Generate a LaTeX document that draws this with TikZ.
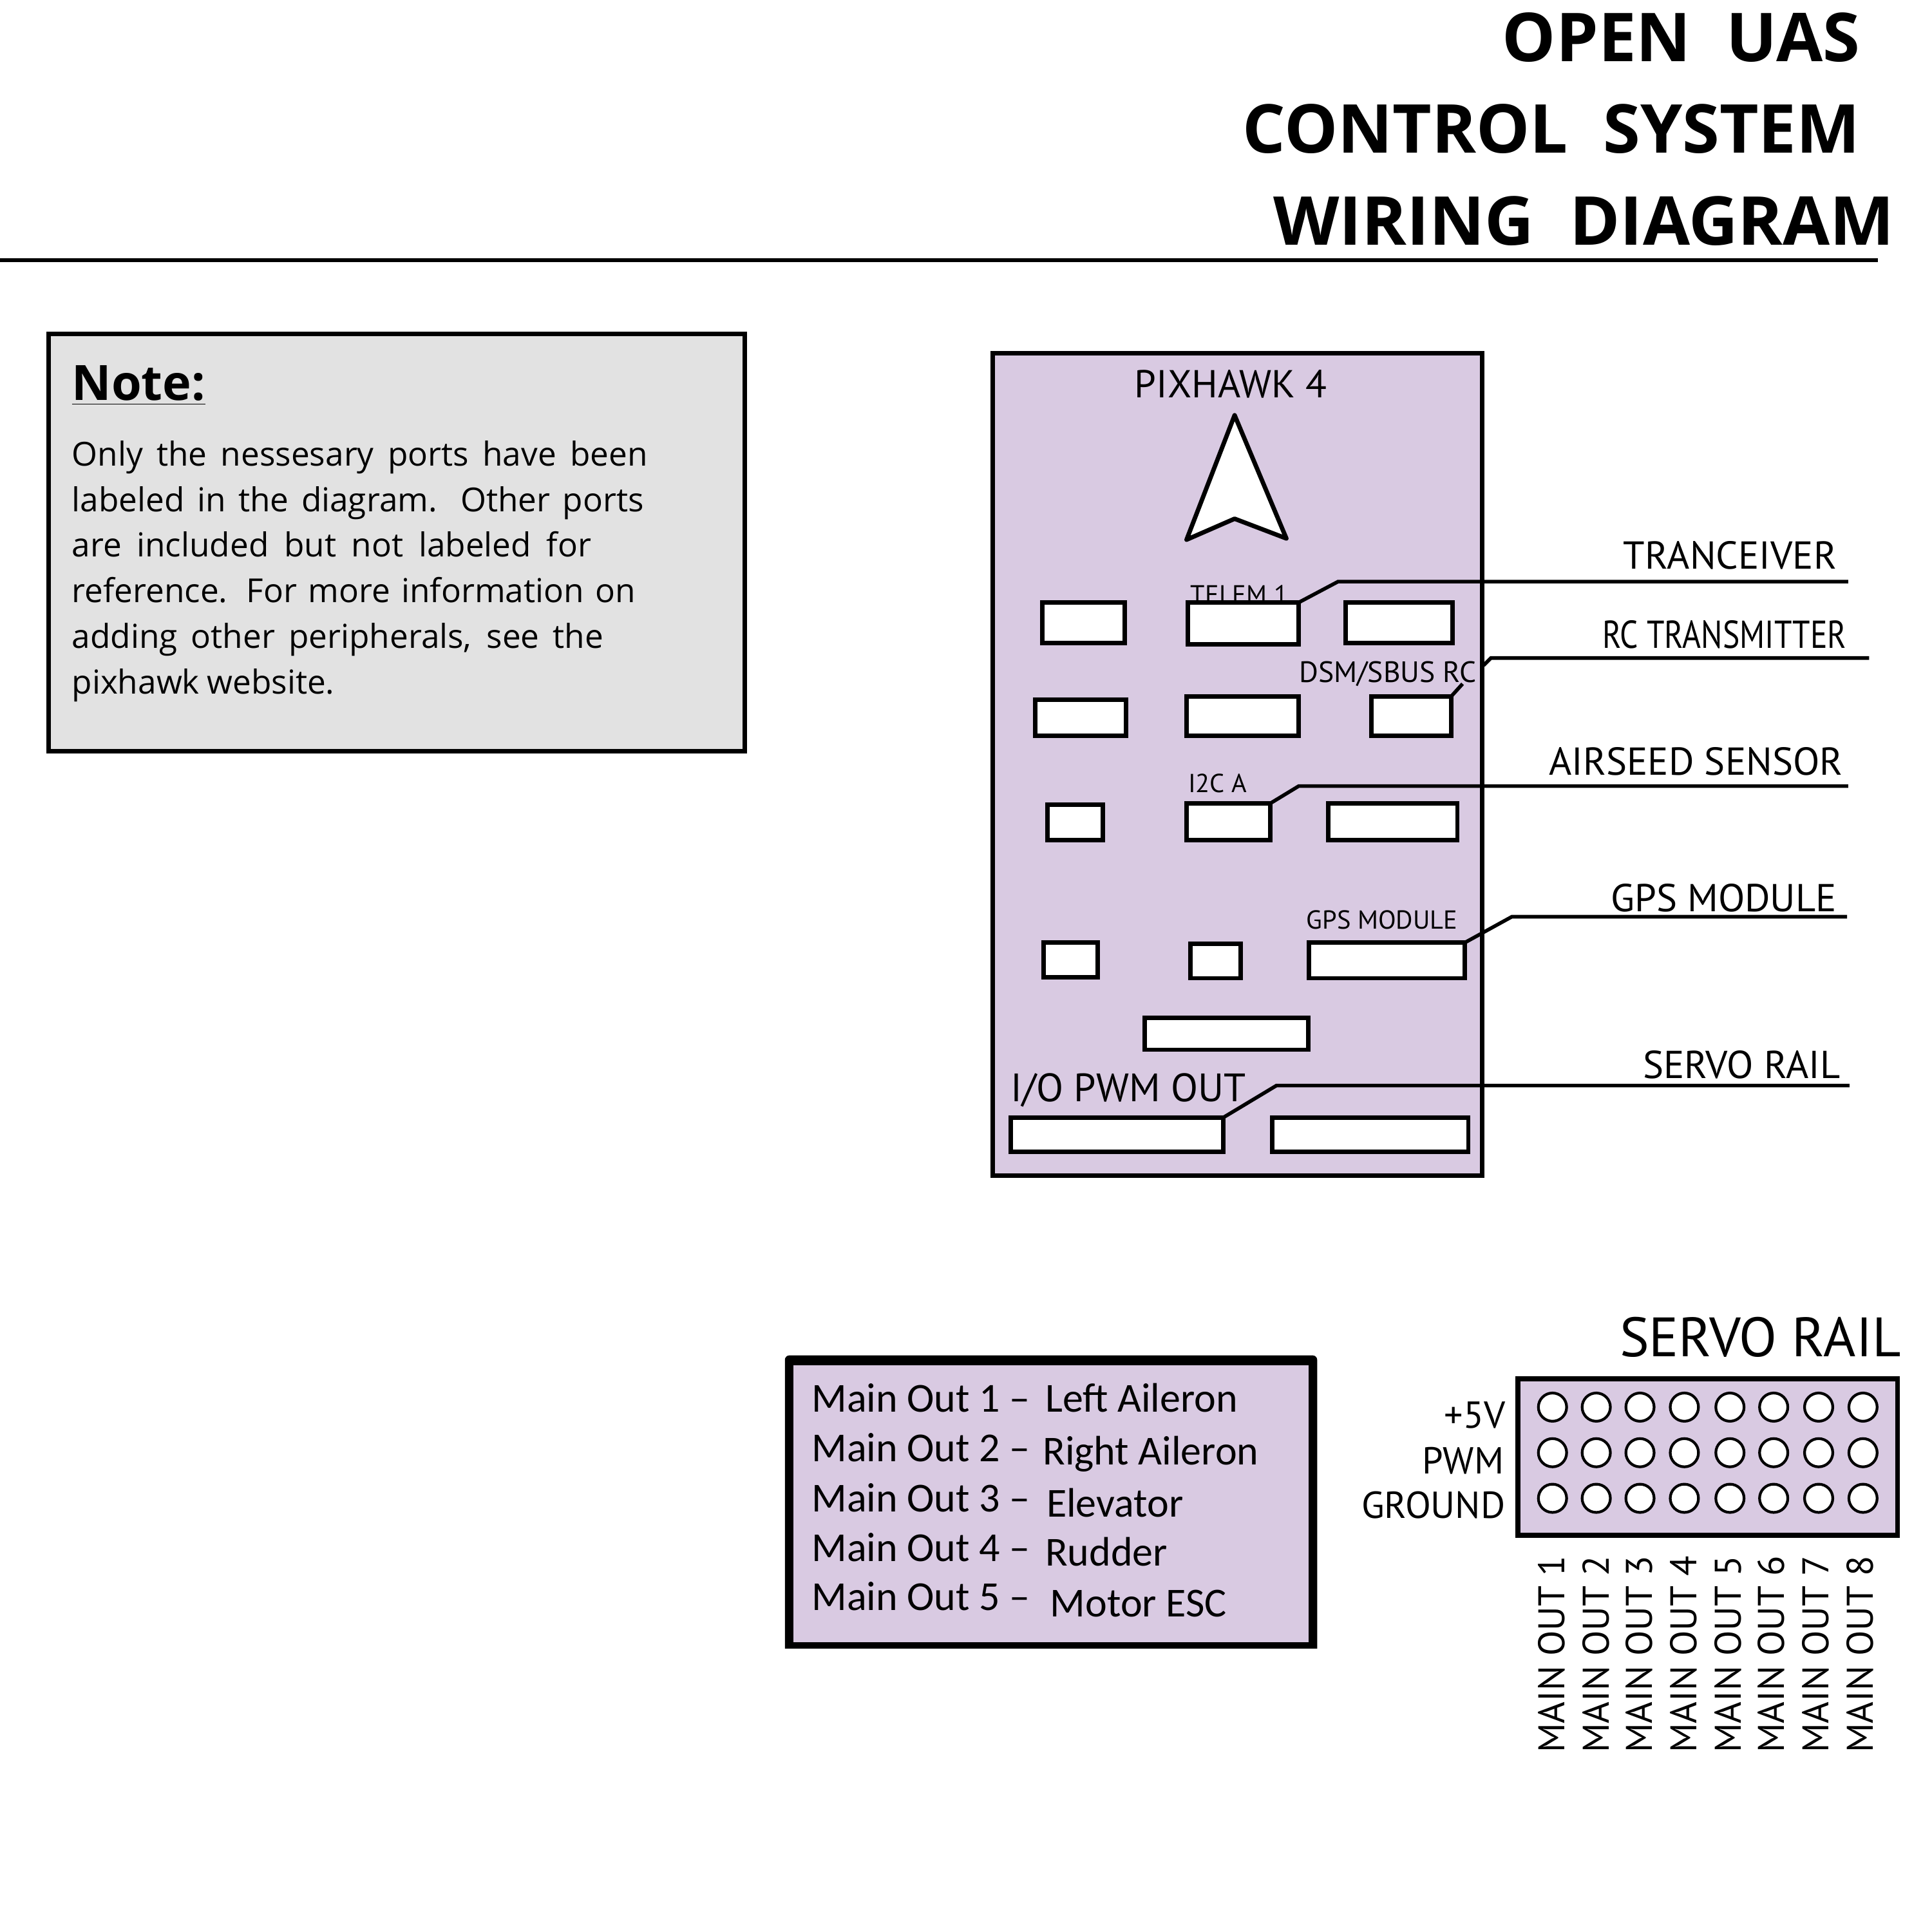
\documentclass[tikz,border=0pt]{standalone}
\usepackage{fontspec}
\setmainfont{Open Sans}
\newfontfamily\labelfont{PT Sans}
\newfontfamily\tablefont{Carlito}
\usetikzlibrary{positioning}

\definecolor{panelpurple}{HTML}{D9CAE2}
\definecolor{notegray}{HTML}{E2E2E2}
\newlength\unitlen
\setlength\unitlen{0.5424pt}

\tikzset{
  boxline/.style={draw=black, line width=1.95pt},
  port/.style={boxline, fill=white, inner sep=0pt, outer sep=0pt},
  wire/.style={draw=black, line width=1.6pt},
  title/.style={font=\fontsize{29.8}{30}\selectfont\bfseries, anchor=base east, inner sep=0pt},
  notetext/.style={font=\fontsize{14.6}{15}\selectfont, anchor=base west, inner sep=0pt},
  wirelabel/.style={font=\labelfont\fontsize{17.2}{17}\selectfont, anchor=base east, inner sep=0pt},
  portlabel/.style={font=\labelfont\fontsize{11.5}{11.5}\selectfont, anchor=base west, inner sep=0pt},
  tablelabel/.style={font=\tablefont\fontsize{18.2}{18}\selectfont, anchor=base west, inner sep=0pt},
  railhole/.style={draw=black, line width=1.2pt, fill=white, circle, inner sep=0pt, minimum size=23*\unitlen},
  raillabel/.style={font=\labelfont\fontsize{16.6}{17}\selectfont, anchor=base east, inner sep=0pt},
  outlabel/.style={font=\labelfont\fontsize{16.4}{17}\selectfont, anchor=base west, rotate=90, inner sep=0pt}
}

\begin{document}
\begin{tikzpicture}[x=0.019133cm, y=-0.019133cm]
  \useasboundingbox (0,0) rectangle (1568,1568);

  % title
  \node[title] (titleone) at (1510,50) {OPEN\ \ UAS};
  \node[title] (titletwo) at (1510,124) {CONTROL\ \ SYSTEM};
  \node[title] (titlethree) at (1538,199) {\scalebox{1.012}[1]{WIRING\ \ DIAGRAM}};
  \coordinate (ruleleft) at (0,211);
  \coordinate (ruleright) at (1524,211);
  \draw[wire] (ruleleft) -- (ruleright);

  % note
  \draw[boxline, fill=notegray] (39.5,271) rectangle (604.5,609.5);
  \node[notetext, font=\fontsize{21.5}{22}\selectfont\bfseries] (notehead) at (58,325) {\underline{Note:}};
  \foreach \name/\y/\w/\txt in {
    noteone/378/469/Only the nessesary ports have been,
    notetwo/415/466/labeled in the diagram. Other ports,
    notethree/452/423/are included but not labeled for,
    notefour/489/459/reference. For more information on,
    notefive/526/433/adding other peripherals{,} see the,
    notesix/563/214/pixhawk website.} {
    \node[notetext] (\name) at (58,\y) {\makebox[\w\unitlen][s]{\txt}};
  }

  % board
  \draw[boxline, fill=panelpurple] (805.5,286.5) rectangle (1203,954);
  \node[wirelabel, anchor=base] (boardname) at (999,323) {PIXHAWK 4};
  \draw[boxline, fill=white, line join=round] (1002,337) -- (1044,437) -- (1002,421) -- (963,438) -- cycle;

  % port labels, the ports cover them
  \node[portlabel] (telemlabel) at (966,490) {TELEM 1};
  \node[portlabel, font=\labelfont\fontsize{13}{13}\selectfont] (rclabel) at (1054,554) {DSM/SBUS RC};
  \node[portlabel] (ictlabel) at (964,643) {I2C A};
  \node[portlabel] (gpslabel) at (1060,754) {GPS MODULE};
  \node[portlabel, font=\labelfont\fontsize{17.5}{18}\selectfont] (pwmlabel) at (820,894) {I/O PWM OUT};

  % ports
  \foreach \name/\cx/\cy/\w/\h in {
    portaa/879.5/505.5/67/33, telemport/1009/506/90/34, portac/1135.5/505.5/87/33,
    portba/877/582.5/74/29, portbb/1008.5/581/91/32, rcport/1145.5/581/65/32,
    portca/872.5/667.5/45/29, ictport/997/667/68/30, portcc/1130.5/667/105/30,
    portda/869/779/44/28, portdb/986.5/780/41/28, gpsport/1125.5/779.5/127/29,
    portea/995.5/839/133/26,
    pwmport/906.5/921/173/28, portfb/1112/921/160/28} {
    \node[port, minimum width=\w*\unitlen, minimum height=\h*\unitlen] (\name) at (\cx,\cy) {};
  }

  % wires
  \coordinate (telembend) at (1086,472);
  \coordinate (telemend) at (1500,472);
  \draw[wire] (telemport.north east) -- (telembend) -- (telemend);
  \coordinate (rcstub) at (1187,555);
  \coordinate (rcstart) at (1204,540);
  \coordinate (rcbend) at (1210,534);
  \coordinate (rcend) at (1517,534);
  \draw[wire] (rcport.north east) -- (rcstub);
  \draw[wire] (rcstart) -- (rcbend) -- (rcend);
  \coordinate (ictbend) at (1054,638);
  \coordinate (ictend) at (1500,638);
  \draw[wire] (ictport.north east) -- (ictbend) -- (ictend);
  \coordinate (gpsbend) at (1227,744);
  \coordinate (gpsend) at (1499,744);
  \draw[wire] (gpsport.north east) -- (gpsbend) -- (gpsend);
  \coordinate (pwmbend) at (1036,881);
  \coordinate (pwmend) at (1501,881);
  \draw[wire] (pwmport.north east) -- (pwmbend) -- (pwmend);

  % wire labels
  \node[wirelabel] (tranceiver) at (1491,462) {TRANCEIVER};
  \node[wirelabel] (transmitter) at (1499,526) {\scalebox{0.82}[1]{RC TRANSMITTER}};
  \node[wirelabel] (airseed) at (1496,629) {AIRSEED SENSOR};
  \node[wirelabel] (gpsmodule) at (1491,740) {GPS MODULE};
  \node[wirelabel] (servorail) at (1494,875) {SERVO RAIL};

  % table
  \fill[black] (637,1338) [rounded corners=2] -- (637,1100) -- (1069,1100) [sharp corners] -- (1069,1338) -- cycle;
  \fill[panelpurple] (644,1108) rectangle (1062,1333);
  \foreach \n/\ya/\x/\yb/\txt in {
    1/1146/848/1146/Left Aileron, 2/1186/846/1189/Right Aileron, 3/1227/849/1231/Elevator,
    4/1267/848/1271/Rudder, 5/1307/852/1312/Motor ESC} {
    \node[tablelabel] (mainout\n) at (658.5,\ya) {Main Out \n\ –};
    \node[tablelabel] (surface\n) at (\x,\yb) {\txt};
  }

  % servo rail
  \node[raillabel, font=\labelfont\fontsize{24.5}{25}\selectfont] (railname) at (1543,1101) {SERVO RAIL};
  \draw[boxline, line width=2.1pt, fill=panelpurple] (1232,1119) rectangle (1540,1246);
  \node[raillabel] (railfive) at (1222,1159) {+5V};
  \node[raillabel] (railpwm) at (1221,1196) {PWM};
  \node[raillabel] (railground) at (1222,1232) {GROUND};
  \foreach \n/\x in {1/1260, 2/1295.5, 3/1331, 4/1367, 5/1404, 6/1439.5, 7/1476, 8/1512} {
    \foreach \r/\y in {a/1142, b/1179, c/1216} {
      \node[railhole] (hole\r\n) at (\x,\y) {};
    }
  }
  \foreach \n/\x in {1/1270, 2/1306, 3/1341, 4/1377, 5/1413, 6/1448, 7/1484, 8/1520} {
    \node[outlabel] (out\n) at (\x,1423) {MAIN OUT \n};
  }
\end{tikzpicture}
\end{document}
